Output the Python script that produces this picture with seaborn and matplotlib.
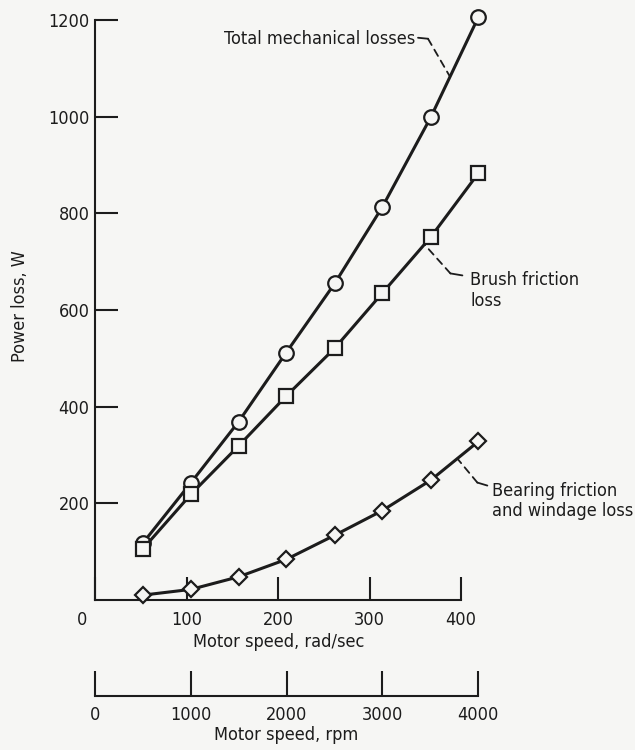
import numpy as np
import pandas as pd
import matplotlib
matplotlib.use('Agg')
import matplotlib.pyplot as plt
import matplotlib.transforms as mtransforms
from matplotlib import font_manager
import seaborn as sns

# motor speed of the test points, rad/sec (500 ... 4000 rpm)
speed_rad = [52, 105, 157, 209, 262, 314, 367, 419]
# power loss, W
total_loss = [117, 243, 369, 512, 655, 813, 999, 1206]
brush_loss = [105, 219, 319, 422, 521, 635, 751, 883]
bearing_loss = [10, 22, 48, 84, 134, 185, 248, 328]

x_ticks = [0, 100, 200, 300, 400]
y_ticks = [200, 400, 600, 800, 1000, 1200]
rpm_ticks = [0, 1000, 2000, 3000, 4000]

sns.set_theme(style="ticks")
fonts = font_manager.fontManager.ttflist
has_cond = any(f.name == 'DejaVu Sans' and f.stretch == 'condensed' for f in fonts)
if has_cond:
    plt.rcParams['font.family'] = ['DejaVu Sans']
    plt.rcParams['font.stretch'] = 'condensed'
    fs = 13
else:
    plt.rcParams['font.family'] = ['Liberation Sans', 'DejaVu Sans']
    fs = 12.5

ink = '#1c1c1c'
bg = '#f6f6f4'

fig = plt.figure(figsize=(6.35, 7.5), dpi=100, facecolor=bg)
ax = fig.add_axes([95/635, 150/750, 402.6/635, 580/750])
ax.set_facecolor(bg)

series = [(total_loss, 'o', 10.5), (brush_loss, 's', 9.5), (bearing_loss, 'D', 8.0)]
for vals, mk, ms in series:
    df = pd.DataFrame({'speed': speed_rad, 'loss': vals})
    sns.lineplot(data=df, x='speed', y='loss', ax=ax, color=ink, lw=2.2,
                 marker=mk, markersize=ms, markerfacecolor=bg,
                 markeredgecolor=ink, markeredgewidth=1.6, errorbar=None,
                 legend=False, clip_on=False, zorder=3)

ax.set_xlim(0, 440)
ax.set_ylim(0, 1200)
ax.set_xticks(x_ticks)
ax.set_yticks(y_ticks)
for s in ['top', 'right']:
    ax.spines[s].set_visible(False)
for s in ['left', 'bottom']:
    ax.spines[s].set_linewidth(1.5)
    ax.spines[s].set_color(ink)
ax.spines['bottom'].set_bounds(0, 400)
ax.tick_params(axis='both', direction='in', length=16.5, width=1.5,
               color=ink, labelcolor=ink, labelsize=fs)
ax.tick_params(axis='x', pad=8)
ax.tick_params(axis='y', pad=4)

ax.set_xlabel('Motor speed, rad/sec', fontsize=fs, color=ink)
ax.xaxis.set_label_coords((279 - 95) / 402.6, (600 - 642) / 580)
ax.xaxis.label.set_verticalalignment('center')
ax.set_ylabel('Power loss, W', fontsize=fs, color=ink)
ax.yaxis.set_label_coords((20 - 95) / 402.6, (600 - 306) / 580)
ax.yaxis.label.set_verticalalignment('center')

# second speed scale in rpm
secax = ax.secondary_xaxis(-96 / 580, functions=(lambda w: w * 60 / (2 * np.pi),
                                                lambda n: n * 2 * np.pi / 60))
secax.set_xticks(rpm_ticks)
secax.spines['bottom'].set_bounds(0, 4000)
secax.spines['bottom'].set_linewidth(1.5)
secax.spines['bottom'].set_color(ink)
secax.tick_params(axis='x', direction='in', length=18, width=1.5, color=ink,
                  labelcolor=ink, labelsize=fs, pad=7)
secax.set_xlabel('Motor speed, rpm', fontsize=fs, color=ink)
secax.xaxis.set_label_coords((286 - 95) / 402.6, (600 - 735) / 580, transform=ax.transAxes)
secax.xaxis.label.set_verticalalignment('center')

# shift the "0" of the rad/sec scale left of the origin
lab0 = ax.xaxis.get_major_ticks()[0].label1
lab0.set_transform(lab0.get_transform() + mtransforms.ScaledTranslation(-13 / 100, 0, fig.dpi_scale_trans))


def leader(x_at, vals, corner, hook, text, text_off, ha):
    y_at = np.interp(x_at, speed_rad, vals)
    ax.annotate('', xy=(x_at, y_at), xytext=corner, textcoords='offset pixels',
                arrowprops=dict(arrowstyle='-', ls=(0, (4, 3)), lw=1.3, color=ink,
                                shrinkA=0, shrinkB=0))
    ctrans = mtransforms.offset_copy(ax.transData, fig=fig, x=corner[0], y=corner[1], units='dots')
    ax.annotate('', xy=(x_at, y_at), xycoords=ctrans,
                xytext=(hook[0] - corner[0], hook[1] - corner[1]), textcoords='offset pixels',
                arrowprops=dict(arrowstyle='-', lw=1.3, color=ink, shrinkA=0, shrinkB=0))
    va = 'center' if '\n' not in text else 'top'
    ax.annotate(text, xy=(x_at, y_at), xytext=text_off, textcoords='offset pixels',
                ha=ha, va=va, fontsize=fs, color=ink)


leader(388, total_loss, (-22, 38), (-32, 39), 'Total mechanical losses', (-35, 38), 'right')
leader(360, brush_loss, (26, -29), (38, -31), 'Brush friction\nloss', (46, -27), 'left')
leader(396, bearing_loss, (20, -24), (30, -27), 'Bearing friction\nand windage loss', (35, -23), 'left')

fig.savefig('out.png', dpi=100, facecolor=bg)
